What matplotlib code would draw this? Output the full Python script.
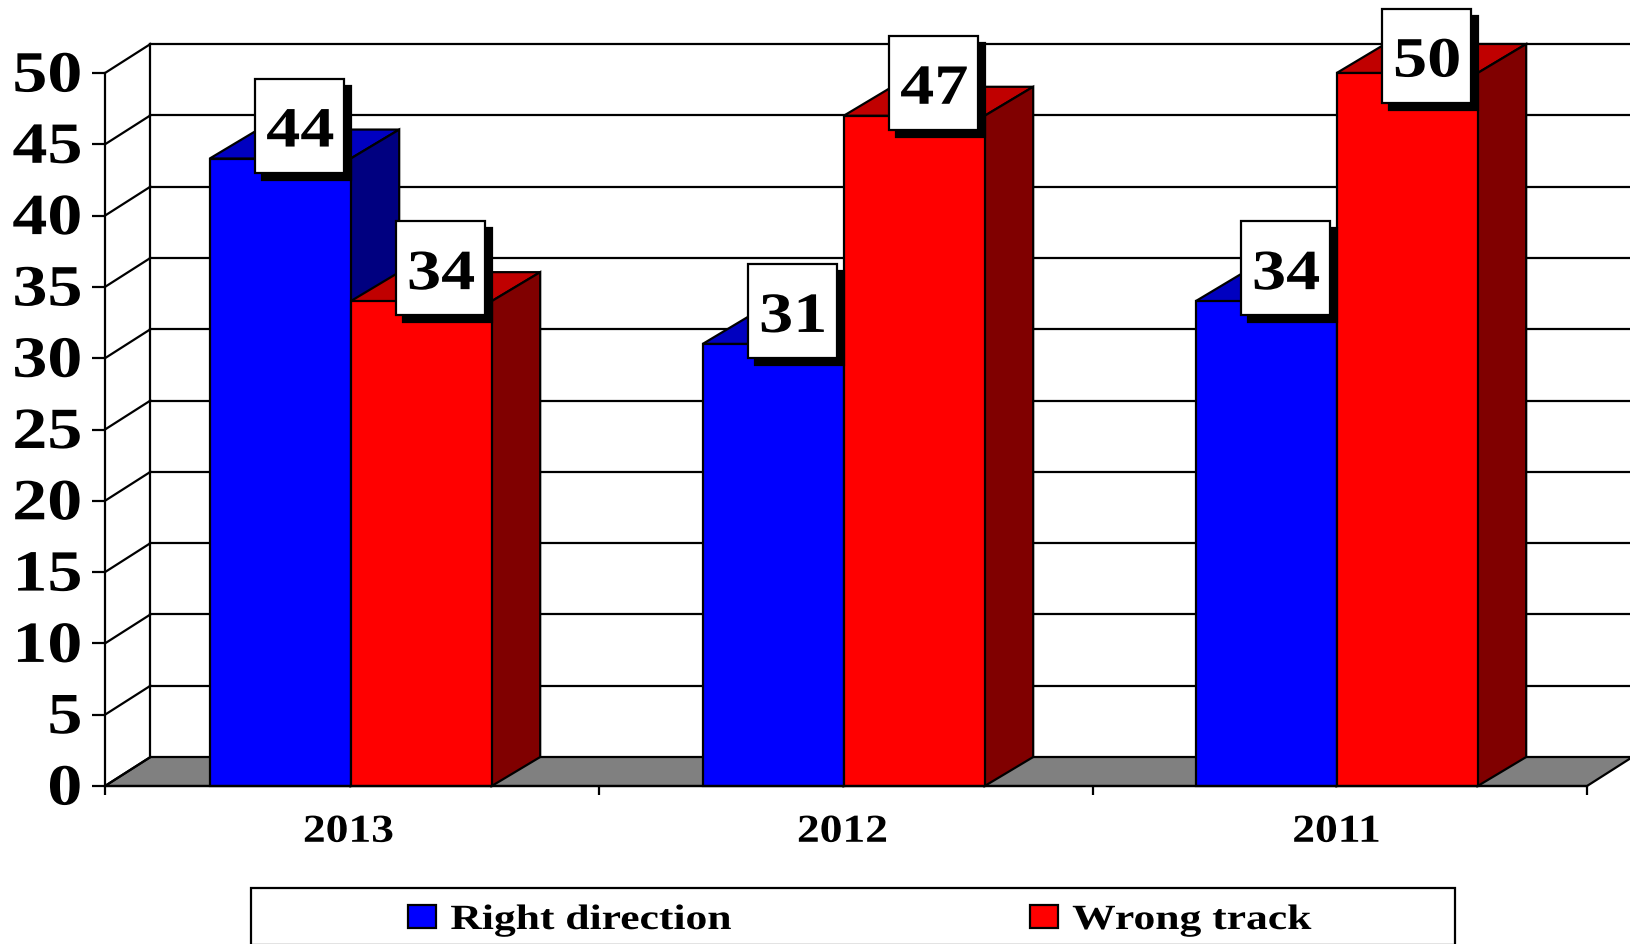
import matplotlib
matplotlib.use("Agg")
import matplotlib.pyplot as plt
from matplotlib.patches import Polygon, Rectangle, Patch
from matplotlib.patheffects import AbstractPathEffect
from matplotlib.transforms import Affine2D, ScaledTranslation

categories = ["2013", "2012", "2011"]
series_names = ["Right direction", "Wrong track"]
right_direction = [44, 31, 34]
wrong_track = [34, 47, 50]
y_ticks = list(range(0, 51, 5))

W, H = 1631, 945
AX_L, AX_R, AX_T, AX_B = 105, 1587, 74, 787
PX_X = 3 / (AX_R - AX_L)       # data units per pixel
PX_Y = 50 / (AX_B - AX_T)
DX, DY = 45.5 * PX_X, 29 * PX_Y   # depth of the pseudo-3D projection
BAR_DX = 48.5 * PX_X
BAR_W = 141 * PX_X
BAR_START = 104.7 * PX_X
GROUP_STEP = 493 * PX_X
LABEL_SHIFT = 3.5 * PX_X
LW = 1.6
FONT = "Liberation Serif"


class Stretch(AbstractPathEffect):
    """Widen glyphs horizontally, as in the reference, keeping them real text."""
    def __init__(self, sx, anchor="center"):
        super().__init__()
        self.sx, self.anchor = sx, anchor

    def draw_path(self, renderer, gc, tpath, affine, rgbFace=None):
        bb = tpath.get_extents()
        ref = {"left": bb.x0, "center": (bb.x0 + bb.x1) / 2, "right": bb.x1}[self.anchor]
        t = Affine2D().translate(-ref, 0).scale(self.sx, 1).translate(ref, 0)
        renderer.draw_path(gc, tpath, t + affine, rgbFace)


fig = plt.figure(figsize=(W / 100, H / 100), dpi=100, facecolor="white")
ax = fig.add_axes([AX_L / W, 1 - AX_B / H, (AX_R - AX_L) / W, (AX_B - AX_T) / H])
ax.set_xlim(0, 3)
ax.set_ylim(0, 50)
ax.patch.set_alpha(0)
for s in ("top", "right"):
    ax.spines[s].set_visible(False)
for s in ("left", "bottom"):
    ax.spines[s].set_linewidth(LW)
    ax.spines[s].set_zorder(20)

# floor
ax.add_patch(Polygon([(0, 0), (3, 0), (3 + DX, DY), (DX, DY)], closed=True, fc="#808080",
                     ec="black", lw=LW, clip_on=False, zorder=1))
# walls and gridlines
ax.plot([DX, DX], [DY, 50 + DY], color="black", lw=LW, clip_on=False, zorder=2)
for v in y_ticks:
    ax.plot([0, DX], [v, v + DY], color="black", lw=LW, clip_on=False, zorder=2)
    if v > 0:
        ax.plot([DX, 3 + DX], [v + DY, v + DY], color="black", lw=LW, clip_on=False, zorder=2)

faces = [("#0000FF", "#0000C0", "#000080"), ("#FF0000", "#C00000", "#800000")]
labels = []
for i, (vals, (front, top, side)) in enumerate(zip((right_direction, wrong_track), faces)):
    for j, v in enumerate(vals):
        x0 = j * GROUP_STEP + BAR_START + i * BAR_W
        x1 = x0 + BAR_W
        z = 5 + 2 * i + j * 3
        ax.bar(x0, v, width=BAR_W, align="edge", color=front, edgecolor="black", lw=LW,
               clip_on=False, zorder=z + 1)
        ax.add_patch(Polygon([(x0, v), (x1, v), (x1 + BAR_DX, v + DY), (x0 + BAR_DX, v + DY)], closed=True,
                             fc=top, ec="black", lw=LW, clip_on=False, zorder=z))
        ax.add_patch(Polygon([(x1, 0), (x1, v), (x1 + BAR_DX, v + DY), (x1 + BAR_DX, DY)], closed=True,
                             fc=side, ec="black", lw=LW, clip_on=False, zorder=z))
        labels.append((x0, v))

# value labels: boxes with a hard drop shadow
BOX_W, BOX_H = 89 * PX_X, 94 * PX_Y
for x0, v in labels:
    cx = x0 + 89.5 * PX_X
    cy = min(v + 33 * PX_Y, 50 + 17.5 * PX_Y)
    ax.add_patch(Rectangle((cx - BOX_W / 2 + 7 * PX_X, cy - BOX_H / 2 - 7 * PX_Y), BOX_W, BOX_H,
                           fc="black", ec="black", lw=LW, clip_on=False, zorder=30))
    ax.add_patch(Rectangle((cx - BOX_W / 2, cy - BOX_H / 2), BOX_W, BOX_H,
                           fc="white", ec="black", lw=LW, clip_on=False, zorder=31))
    ax.text(cx + 1 * PX_X, cy - 21 * PX_Y, str(v), ha="center", va="baseline", family=FONT, weight="bold",
            fontsize=41, color="black", zorder=32, clip_on=False,
            path_effects=[Stretch(1.2)])

# y axis
ax.set_yticks(y_ticks)
ax.set_yticklabels([str(v) for v in y_ticks], family=FONT, weight="bold", fontsize=42)
ax.tick_params(axis="y", length=9.4, width=LW, pad=7.2, color="black")
for t in ax.get_yticklabels():
    t.set_path_effects([Stretch(1.2, "right")])
    t.set_verticalalignment("center_baseline")
    t.set_transform(t.get_transform() + ScaledTranslation(0, 1.5 / 100, fig.dpi_scale_trans))

# x axis: ticks between categories, labels centred
ax.set_xticks([0, 1, 2, 3])
ax.set_xticklabels([])
ax.set_xticks([c + 0.5 - LABEL_SHIFT for c in range(len(categories))], minor=True)
ax.set_xticklabels(categories, minor=True, family=FONT, weight="bold", fontsize=28.5)
ax.tick_params(axis="x", which="major", length=6.5, width=LW, color="black")
ax.tick_params(axis="x", which="minor", length=0, pad=20)
for t in ax.get_xticklabels(minor=True):
    t.set_path_effects([Stretch(1.15)])

# legend
ax.add_patch(Rectangle((-(AX_L - 251.5) * PX_X, (AX_B - 946) * PX_Y), (1455 - 251.5) * PX_X,
                       (946 - 889) * PX_Y, fc="white", ec="black", lw=LW, clip_on=False, zorder=40))
handles = [Patch(fc=f[0], ec="black", lw=LW, label=n) for f, n in zip(faces, series_names)]
leg = ax.legend(handles=handles, ncol=2, frameon=False, loc="lower left",
                bbox_to_anchor=(408 / W, 1 - 938 / H), bbox_transform=fig.transFigure,
                borderaxespad=0, borderpad=0, handlelength=0.8, handleheight=0.62,
                handletextpad=0.4, columnspacing=9.9,
                prop={"family": FONT, "weight": "bold", "size": 25.5})
leg.set_zorder(41)
for t in leg.get_texts():
    t.set_path_effects([Stretch(1.23, "left")])

fig.savefig("out.png", dpi=100, facecolor="white")
